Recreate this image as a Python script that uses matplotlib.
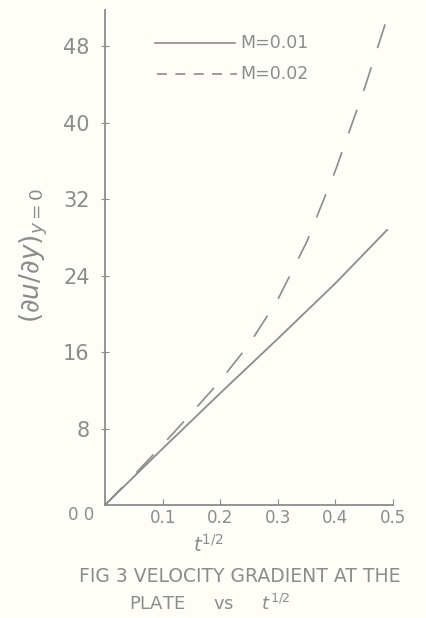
import matplotlib
matplotlib.use("Agg")
import matplotlib.pyplot as plt
import numpy as np

# Data
x_m001 = [0.0, 0.1, 0.2, 0.3, 0.4, 0.49]
y_m001 = [0.0, 5.9, 11.7, 17.4, 23.2, 28.8]

x_m002 = [0.0, 0.05, 0.1, 0.15, 0.2, 0.25, 0.3, 0.35, 0.4, 0.45, 0.49]
y_m002 = [0.0, 3.1, 6.3, 9.6, 13.0, 16.8, 21.5, 27.5, 35.0, 43.5, 51.0]

x_ticks = [0.1, 0.2, 0.3, 0.4, 0.5]
x_ticklabels = ["0.1", "0.2", "0.3", "0.4", "0.5"]
y_ticks = [8, 16, 24, 32, 40, 48]
y_ticklabels = ["8", "16", "24", "32", "40", "48"]
labels = ["M=0.01", "M=0.02"]

ink = "#8c8c8c"
bg = "#fefdf7"

fig = plt.figure(figsize=(4.27, 6.18), dpi=100, facecolor=bg)
ax = fig.add_axes([105/427, 113/618, 288/427, 495/618])
ax.set_facecolor(bg)

ax.plot(x_m001, y_m001, color=ink, lw=1.3, solid_capstyle="round")
ax.plot(x_m002, y_m002, color=ink, lw=1.2, dashes=(15, 12))

ax.set_xlim(0, 0.5)
ax.set_ylim(0, 51.8)

for s in ["top", "right"]:
    ax.spines[s].set_visible(False)
for s in ["left", "bottom"]:
    ax.spines[s].set_color(ink)
    ax.spines[s].set_linewidth(1.3)

ax.set_xticks(x_ticks)
ax.set_xticklabels(x_ticklabels)
ax.set_yticks(y_ticks)
ax.set_yticklabels(y_ticklabels)
ax.tick_params(axis="x", direction="in", length=4, color=ink, labelcolor=ink,
               labelsize=12, pad=3)
ax.tick_params(axis="y", direction="inout", length=6, color=ink, labelcolor=ink,
               labelsize=15, pad=8)

# origin label
fig.text(81/427, 1 - 515/618, "0 0", ha="center", va="center",
         color=ink, fontsize=12)

# legend drawn by hand
ax.plot([0.174, 0.451], [0.933, 0.933], transform=ax.transAxes, color=ink, lw=1.2)
ax.plot([0.181, 0.458], [0.871, 0.871], transform=ax.transAxes, color=ink, lw=1.2,
        dashes=(6, 5))
ax.text(0.47, 0.933, labels[0], transform=ax.transAxes, ha="left", va="center",
        color=ink, fontsize=12.5)
ax.text(0.47, 0.871, labels[1], transform=ax.transAxes, ha="left", va="center",
        color=ink, fontsize=12.5)

# axis labels
fig.text(34/427, 1 - 255/618, r"$(\partial u/\partial y)_{y=0}$", rotation=90,
         ha="center", va="center", color=ink, fontsize=19)
fig.text(208/427, 1 - 545/618, r"$t^{1/2}$", ha="center", va="center",
         color=ink, fontsize=14)

# caption
fig.text(240/427, 1 - 577/618, "FIG 3 VELOCITY GRADIENT AT THE", ha="center",
         va="center", color=ink, fontsize=13.5)
fig.text(210/427, 1 - 604/618, r"PLATE     vs     $t^{1/2}$", ha="center",
         va="center", color=ink, fontsize=13)

fig.savefig("out.png", dpi=100, facecolor=bg)
